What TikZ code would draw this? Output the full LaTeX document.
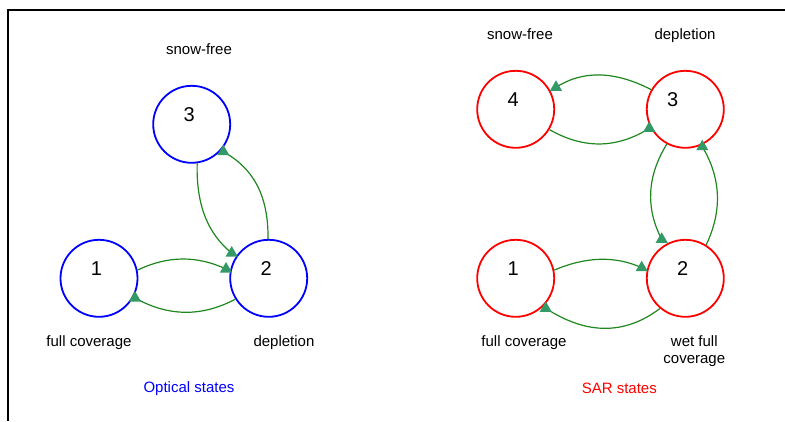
\documentclass[tikz,border=0pt]{standalone}
\usepackage{fontspec}
\setmainfont{Liberation Sans}
\usetikzlibrary{shapes.geometric}
\definecolor{trigreen}{RGB}{51,153,102}
\definecolor{edgegreen}{RGB}{30,135,30}
\begin{document}
\begin{tikzpicture}[x=1pt,y=-1pt,
  state/.style={circle, line width=1.8pt, minimum size=77pt, inner sep=0pt,
    font=\fontsize{20}{24}\selectfont, text height=14pt, text depth=20pt},
  optstate/.style={state, draw=blue},
  sarstate/.style={state, draw=red},
  lbl/.style={font=\fontsize{15}{16.7}\selectfont, anchor=base, inner sep=0pt},
  tip/.style={regular polygon, regular polygon sides=3, fill=trigreen, draw=none,
    inner sep=0pt, minimum size=14pt},
  trans/.style={draw=edgegreen, line width=1.2pt}]
\useasboundingbox (0,0) rectangle (785,421);
% frame
\draw[line width=1.5pt] (8,421) -- (8,10) -- (785,10);

% ---------- Optical states ----------
\node[optstate] (l3) at (191.7,124.3) {3\kern5pt};
\node[optstate] (l1) at (99,278.3) {1\kern5pt};
\node[optstate] (l2) at (268.7,278.3) {2\kern5pt};

\coordinate (pl12) at (226,269);
\coordinate (pl21) at (135,298);
\coordinate (pl32) at (231.7,253);
\coordinate (pl23) at (223.3,151.7);

\draw[trans] (l1.12) .. controls (167.3,255.7) and (196.8,255.3) .. (pl12);
\draw[trans] (l2.-148) .. controls (201.7,317.1) and (168.3,316.6) .. (pl21);
\draw[trans] (l3.-82.7) .. controls (196,205) and (208,234) .. (pl32);
\draw[trans] (l2.91.5) .. controls (268.5,195) and (253,168) .. (pl23);

\node[tip] (tl12) at (pl12) {};
\node[tip] (tl21) at (pl21) {};
\node[tip] (tl32) at (pl32) {};
\node[tip] (tl23) at (pl23) {};

\node[lbl] (lsf) at (199,54.5) {snow-free};
\node[lbl] (lfc) at (89,346.7) {full coverage};
\node[lbl] (ldp) at (284,346.7) {depletion};
\node[lbl, text=blue] (ltitle) at (189,392.3) {Optical states};

% ---------- SAR states ----------
\node[sarstate] (r4) at (515.7,109.3) {4\kern5pt};
\node[sarstate] (r3) at (685.3,109.3) {3\kern25pt};
\node[sarstate] (r1) at (515.7,278.3) {1\kern5pt};
\node[sarstate] (r2) at (685.3,278.3) {2\kern5pt};

\coordinate (pr34) at (556,87.3);
\coordinate (pr43) at (649.3,128.3);
\coordinate (pr32) at (661.7,239.3);
\coordinate (pr23) at (702.3,146.7);
\coordinate (pr12) at (641.7,267.7);
\coordinate (pr21) at (545.7,308.3);

\draw[trans] (r3.150.8) .. controls (614.7,70.9) and (583.1,70) .. (pr34);
\draw[trans] (r4.-31.6) .. controls (583.6,149.2) and (616.9,148.7) .. (pr43);
\draw[trans] (r3.-118.2) .. controls (647,176.2) and (645.4,208) .. (pr32);
\draw[trans] (r2.58.5) .. controls (722.3,211.1) and (721.2,178.3) .. (pr23);
\draw[trans] (r1.12.2) .. controls (586.1,256.5) and (615.3,255.7) .. (pr12);
\draw[trans] (r2.-130.9) .. controls (624.8,335) and (586.9,335) .. (pr21);

\node[tip] (tr34) at (pr34) {};
\node[tip] (tr43) at (pr43) {};
\node[tip] (tr32) at (pr32) {};
\node[tip] (tr23) at (pr23) {};
\node[tip] (tr12) at (pr12) {};
\node[tip] (tr21) at (pr21) {};

\node[lbl] (rsf) at (520,39.3) {snow-free};
\node[lbl] (rdp) at (685,39.3) {depletion};
\node[lbl] (rfc) at (524,346.7) {full coverage};
\node[lbl, anchor=center, align=center] (rwfc) at (694.3,351.3) {wet full\\coverage};
\node[lbl, text=red] (rtitle) at (619.3,393.3) {SAR states};
\end{tikzpicture}
\end{document}
